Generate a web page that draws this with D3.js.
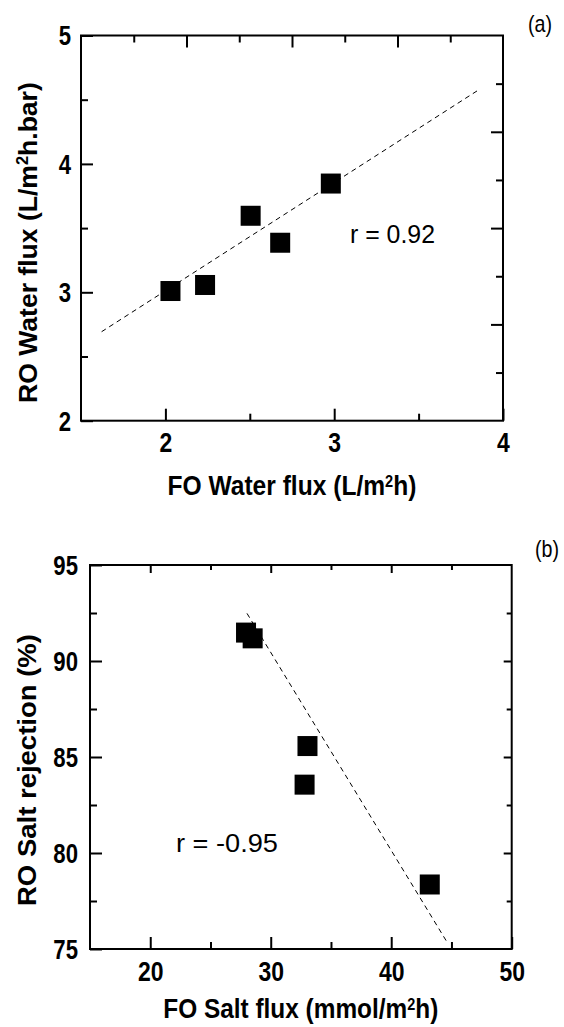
<!DOCTYPE html>
<html>
<head>
<meta charset="utf-8">
<script src="https://cdn.jsdelivr.net/npm/d3@7"></script>
<style>
  html, body { margin: 0; padding: 0; background: #fff; }
  svg { display: block; }
  text { font-family: "Liberation Sans", Arial, sans-serif; fill: #000; }
</style>
</head>
<body>
<script>
// ---------- Data (panel a) ----------
const foWaterFlux = [2.03, 2.235, 2.505, 2.68, 2.98];
const roWaterFlux = [3.01, 3.057, 3.596, 3.386, 3.847];
const fitAx = [1.622, 3.86];
const fitAy = [2.693, 4.58];
const xTicksA = [2, 3, 4];
const xMinorA = [2.5, 3.5];
const yTicksA = [2, 3, 4, 5];
const yMinorA = [2.5, 3.5, 4.5];
const rLabelA = "r = 0.92";

// ---------- Data (panel b) ----------
const foSaltFlux = [27.95, 28.5, 33.05, 32.81, 43.2];
const roSaltRejection = [91.48, 91.18, 85.57, 83.56, 78.36];
const fitBx = [28.03, 44.69];
const fitBy = [92.48, 75.3];
const xTicksB = [20, 30, 40, 50];
const xMinorB = [25, 35, 45];
const yTicksB = [75, 80, 85, 90, 95];
const yMinorB = [77.5, 82.5, 87.5, 92.5];
const rLabelB = "r = -0.95";

const W = 564, H = 1027;
const svg = d3.select("body").append("svg").attr("width", W).attr("height", H);

function condense(sel, ratio) {
  sel.each(function () {
    const len = this.getComputedTextLength();
    d3.select(this).attr("textLength", len * ratio).attr("lengthAdjust", "spacingAndGlyphs");
  });
}

function styleAxis(g) {
  g.select(".domain").remove();
  g.selectAll(".tick line").attr("stroke", "#000").attr("stroke-width", 2);
}

// title with superscript: drawn as main text + small superscript text + tail text,
// horizontally condensed to a target width.
function titleWithSup(g, parts, fontSize, targetLen, transform) {
  const t = g.append("text").attr("transform", transform)
    .attr("font-size", fontSize).attr("font-weight", "bold");
  parts.forEach(p => {
    const ts = t.append("tspan").text(p.t);
    if (p.sup) ts.attr("font-size", Math.round(fontSize * 0.6)).attr("baseline-shift", "super");
  });
  const len = t.node().getComputedTextLength();
  const k = targetLen / len;
  // condense horizontally about the centre
  t.attr("x", -len / 2);
  const wrap = t.attr("transform");
  t.attr("transform", wrap + ` scale(${k},1)`);
  return t;
}

function panel(opt) {
  const x = d3.scaleLinear().domain(opt.xDomain).range([opt.left, opt.right]);
  const y = d3.scaleLinear().domain(opt.yDomain).range([opt.bottom, opt.top]);
  const g = svg.append("g");

  // bottom axis major + labels
  const bx = g.append("g").attr("transform", `translate(0,${opt.bottom})`)
    .call(d3.axisBottom(x).tickValues(opt.xTicks).tickSizeInner(-12).tickSizeOuter(0)
      .tickPadding(opt.xPad).tickFormat(d3.format("d")));
  styleAxis(bx);
  bx.selectAll("text").attr("font-size", 28).attr("font-weight", "bold").attr("fill", "#000");
  condense(bx.selectAll("text"), 0.82);
  const bxm = g.append("g").attr("transform", `translate(0,${opt.bottom})`)
    .call(d3.axisBottom(x).tickValues(opt.xMinor).tickSizeInner(-7).tickSizeOuter(0).tickFormat(""));
  styleAxis(bxm);

  // left axis major + labels
  const ly = g.append("g").attr("transform", `translate(${opt.left},0)`)
    .call(d3.axisLeft(y).tickValues(opt.yTicks).tickSizeInner(-12).tickSizeOuter(0)
      .tickPadding(opt.yPad).tickFormat(d3.format("d")));
  styleAxis(ly);
  ly.selectAll("text").attr("font-size", 27).attr("font-weight", "bold").attr("fill", "#000").attr("dy", "0.35em");
  condense(ly.selectAll("text"), 0.82);
  const lym = g.append("g").attr("transform", `translate(${opt.left},0)`)
    .call(d3.axisLeft(y).tickValues(opt.yMinor).tickSizeInner(-7).tickSizeOuter(0).tickFormat(""));
  styleAxis(lym);

  // top & right axes (unlabelled)
  const xt = opt.topScale || x;
  const yr = opt.rightScale || y;
  const tMaj = g.append("g").attr("transform", `translate(0,${opt.top})`)
    .call(d3.axisTop(xt).tickValues(opt.topMajor).tickSizeInner(-opt.topLen[0]).tickSizeOuter(0).tickFormat(""));
  styleAxis(tMaj);
  const tMin = g.append("g").attr("transform", `translate(0,${opt.top})`)
    .call(d3.axisTop(xt).tickValues(opt.topMinor).tickSizeInner(-opt.topLen[1]).tickSizeOuter(0).tickFormat(""));
  styleAxis(tMin);
  const rMaj = g.append("g").attr("transform", `translate(${opt.right},0)`)
    .call(d3.axisRight(yr).tickValues(opt.rightMajor).tickSizeInner(-opt.rightLen[0]).tickSizeOuter(0).tickFormat(""));
  styleAxis(rMaj);
  const rMin = g.append("g").attr("transform", `translate(${opt.right},0)`)
    .call(d3.axisRight(yr).tickValues(opt.rightMinor).tickSizeInner(-opt.rightLen[1]).tickSizeOuter(0).tickFormat(""));
  styleAxis(rMin);

  // frame
  g.append("rect")
    .attr("x", x.range()[0]).attr("y", y.range()[1])
    .attr("width", x.range()[1] - x.range()[0]).attr("height", y.range()[0] - y.range()[1])
    .attr("fill", "none").attr("stroke", "#000").attr("stroke-width", 2);

  // fit line
  const line = d3.line().x(d => x(d[0])).y(d => y(d[1]));
  g.append("path").datum(d3.zip(opt.fitX, opt.fitY))
    .attr("d", line).attr("fill", "none").attr("stroke", "#000")
    .attr("stroke-width", 1).attr("stroke-dasharray", "5,4");

  // points
  const s = 20;
  g.selectAll("rect.pt").data(d3.zip(opt.xs, opt.ys)).join("rect")
    .attr("class", "pt")
    .attr("x", d => x(d[0]) - s / 2).attr("y", d => y(d[1]) - s / 2)
    .attr("width", s).attr("height", s).attr("fill", "#000");

  // r label
  g.append("text").attr("x", opt.rPos[0]).attr("y", opt.rPos[1])
    .attr("font-size", 25).attr("textLength", opt.rLen).attr("lengthAdjust", "spacingAndGlyphs")
    .text(opt.rLabel);

  // panel label
  g.append("text").attr("x", opt.pPos[0]).attr("y", opt.pPos[1])
    .attr("font-size", 24).attr("textLength", 24).attr("lengthAdjust", "spacingAndGlyphs")
    .text(opt.panelLabel);

  // x title
  titleWithSup(g, opt.xTitle, 27, opt.xTitleLen,
    `translate(${(opt.left + opt.right) / 2},${opt.xTitleY})`);

  // y title
  titleWithSup(g, opt.yTitle, 26, opt.yTitleLen,
    `translate(${opt.yTitlePos[0]},${opt.yTitlePos[1]}) rotate(-90)`);
}

// panel (a)
const topA = d3.scaleLinear().domain([0, 8]).range([81, 503]);
const rightA = d3.scaleLinear().domain([0, 8]).range([420.7, 35.5]);
panel({
  xDomain: [1.5, 4], yDomain: [2, 5],
  left: 81, right: 503, top: 35.5, bottom: 420.7,
  xTicks: xTicksA, xMinor: xMinorA, yTicks: yTicksA, yMinor: yMinorA,
  xPad: 11, yPad: 10,
  topScale: topA, rightScale: rightA,
  topMajor: [2, 4, 6], topMinor: [1, 3, 5, 7], topLen: [12, 7],
  rightMajor: [2, 4, 6], rightMinor: [1, 3, 5, 7], rightLen: [12, 7],
  fitX: fitAx, fitY: fitAy, xs: foWaterFlux, ys: roWaterFlux,
  rLabel: rLabelA, rPos: [350, 243], rLen: 85,
  panelLabel: "(a)", pPos: [528, 32],
  xTitle: [{t: "FO Water flux (L/m"}, {t: "2", sup: true}, {t: "h)"}],
  xTitleY: 495, xTitleLen: 249,
  yTitle: [{t: "RO Water flux (L/m"}, {t: "2", sup: true}, {t: "h.bar)"}],
  yTitlePos: [37, 242.5], yTitleLen: 321
});

// panel (b)
panel({
  xDomain: [15, 50], yDomain: [75, 95],
  left: 90, right: 511.7, top: 565, bottom: 949,
  xTicks: xTicksB, xMinor: xMinorB, yTicks: yTicksB, yMinor: yMinorB,
  xPad: 12, yPad: 12,
  topMajor: xTicksB.slice(0, 3), topMinor: xMinorB, topLen: [8, 5],
  rightMajor: yTicksB.slice(1, 4), rightMinor: yMinorB, rightLen: [8, 5],
  fitX: fitBx, fitY: fitBy, xs: foSaltFlux, ys: roSaltRejection,
  rLabel: rLabelB, rPos: [176, 852], rLen: 102,
  panelLabel: "(b)", pPos: [535, 557],
  xTitle: [{t: "FO Salt flux (mmol/m"}, {t: "2", sup: true}, {t: "h)"}],
  xTitleY: 1018, xTitleLen: 275,
  yTitle: [{t: "RO Salt rejection (%)"}],
  yTitlePos: [36, 770], yTitleLen: 272
});
</script>
</body>
</html>
